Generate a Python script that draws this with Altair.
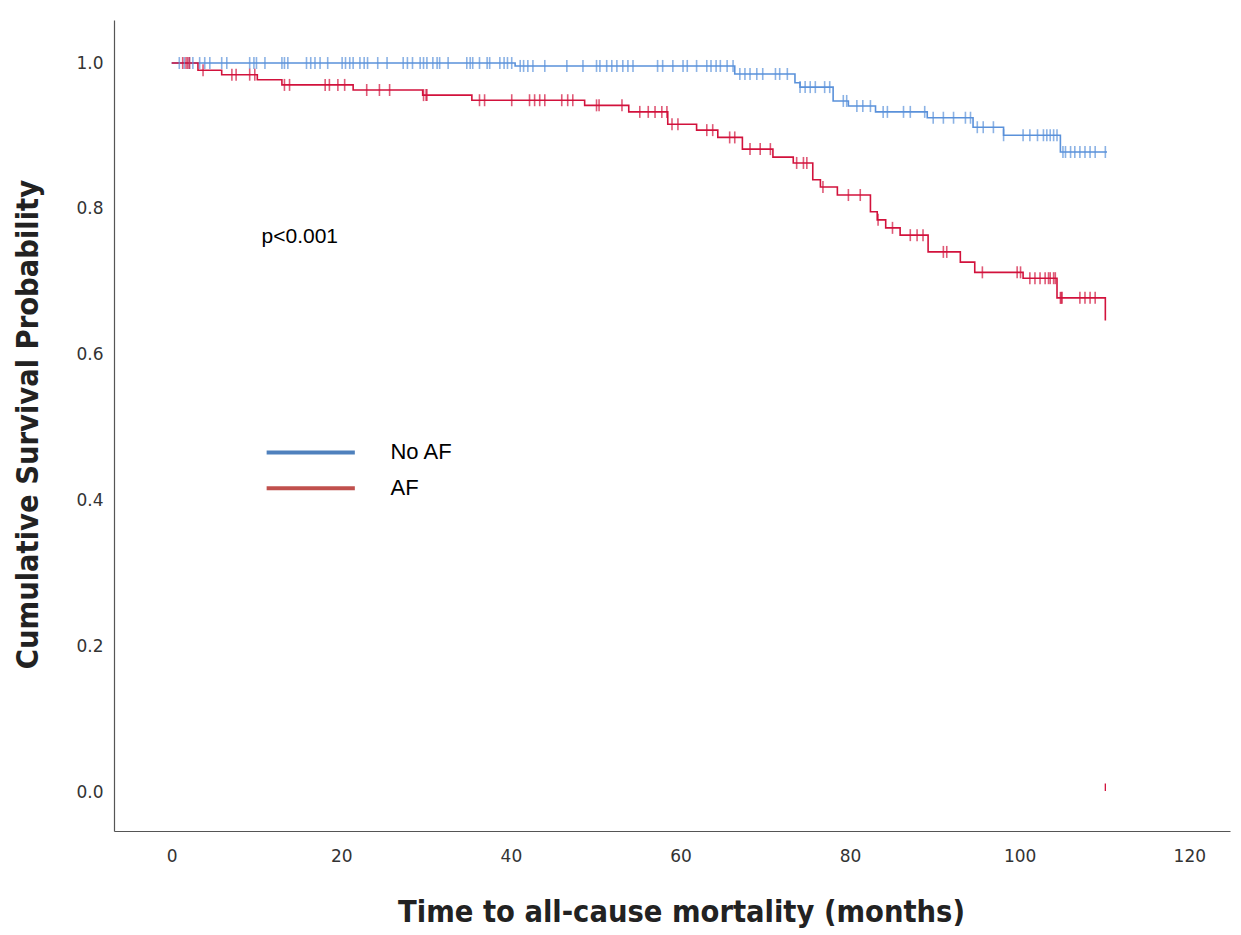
import altair as alt
import pandas as pd
import numpy as np

# Kaplan-Meier step data (months, survival)
red_t = [0, 3.1, 5.9, 10.1, 13.0, 21.4, 29.6, 35.4, 48.7, 53.9, 58.5, 61.9, 64.4, 67.3,
         70.9, 73.3, 75.6, 76.5, 78.5, 82.4, 83.2, 84.2, 85.9, 89.2, 93.0, 94.7, 100.4,
         104.4, 110.1]
red_s = [1.0, 0.990, 0.984, 0.977, 0.970, 0.963, 0.956, 0.949, 0.942, 0.933, 0.916, 0.908,
         0.898, 0.882, 0.871, 0.863, 0.840, 0.830, 0.819, 0.796, 0.785, 0.774, 0.764, 0.741,
         0.727, 0.713, 0.705, 0.678, 0.647]

blue_t = [0, 40.5, 66.4, 73.5, 74.1, 78.0, 79.8, 83.0, 89.1, 94.5, 98.1, 104.8, 110.3]
blue_s = [1.0, 0.996, 0.985, 0.973, 0.967, 0.948, 0.941, 0.933, 0.925, 0.912, 0.901,
          0.878, 0.878]

# censored observation times
red_cens = [1.3, 1.7, 1.9, 2.1, 3.7, 7.1, 7.6, 9.2, 9.8, 13.3, 13.9, 18.1, 18.6, 19.6, 20.4,
            23.0, 24.5, 25.7, 29.7, 30.0, 30.1, 36.3, 36.9, 40.1, 42.2, 42.8, 43.4, 44.0,
            46.0, 46.7, 47.3, 50.1, 50.4, 53.1, 55.2, 56.2, 57.0, 57.8, 58.4, 59.0, 59.7,
            63.1, 63.8, 65.8, 66.4, 68.2, 69.4, 70.6, 73.7, 74.5, 74.9, 76.8, 79.8, 81.2,
            83.3, 85.0, 87.1, 87.9, 88.6, 91.0, 91.4, 95.6, 99.7, 100.1, 101.2, 101.8,
            102.4, 103.0, 103.4, 103.6, 104.0, 104.2, 104.8, 104.9, 105.0, 107.1, 107.7,
            108.3, 108.9]
blue_cens = [0.9, 1.5, 2.1, 2.5, 3.3, 3.9, 4.5, 5.9, 6.5, 9.2, 9.7, 10.0, 11.0, 13.0, 13.3,
             13.7, 15.9, 16.4, 16.9, 17.5, 18.4, 20.1, 20.5, 21.0, 21.4, 22.2, 22.7, 23.1,
             24.3, 25.4, 27.3, 27.8, 28.4, 29.3, 29.7, 30.1, 30.8, 31.3, 31.6, 32.6, 34.8,
             35.2, 35.5, 36.3, 37.2, 37.5, 38.7, 39.2, 39.6, 40.1, 41.1, 41.5, 42.0, 42.6,
             44.0, 46.6, 48.5, 50.1, 50.5, 51.3, 51.9, 52.5, 53.2, 53.8, 54.4, 57.3, 57.9,
             59.1, 60.3, 60.8, 61.9, 63.1, 63.6, 64.2, 64.7, 65.5, 66.2, 67.0, 67.6, 68.2,
             69.0, 69.7, 71.2, 71.7, 72.6, 74.1, 74.7, 75.3, 75.9, 77.0, 77.6, 79.2, 79.6,
             80.8, 81.5, 82.4, 83.9, 84.4, 86.3, 87.1, 88.8, 89.8, 91.0, 92.2, 93.6, 94.2,
             95.0, 95.7, 96.9, 98.1, 100.4, 101.2, 102.1, 102.8, 103.2, 103.6, 104.0, 104.4,
             105.1, 105.4, 106.0, 106.5, 107.1, 107.7, 108.3, 108.9, 110.1]

groups = ["No AF", "AF"]
curve_colors = ["#5a91da", "#d2123c"]
legend_colors = ["#4f81bd", "#c0504d"]


def surv_at(times, ts, ss):
    idx = np.searchsorted(np.array(ts), np.array(times), side="right") - 1
    return [ss[i] for i in idx]


steps = pd.concat([
    pd.DataFrame({"t": blue_t, "s": blue_s, "g": "No AF"}),
    pd.DataFrame({"t": red_t, "s": red_s, "g": "AF"}),
])
cens = pd.concat([
    pd.DataFrame({"t": blue_cens, "s": surv_at(blue_cens, blue_t, blue_s), "g": "No AF"}),
    pd.DataFrame({"t": red_cens, "s": surv_at(red_cens, red_t, red_s), "g": "AF"}),
])

xscale = alt.Scale(domain=[-6.8, 124.8], nice=False, zero=False)
yscale = alt.Scale(domain=[-0.053, 1.059], nice=False, zero=False)
cscale = alt.Scale(domain=groups, range=curve_colors)

xax = alt.Axis(values=[0, 20, 40, 60, 80, 100, 120], grid=False, ticks=False,
               labelPadding=17, title="Time to all-cause mortality (months)",
               titleY=90, titleX=567, titleBaseline="alphabetic")
yax = alt.Axis(values=[0, 0.2, 0.4, 0.6, 0.8, 1.0], format=".1f", grid=False, ticks=False,
               labelPadding=11, title="Cumulative Survival Probability",
               titleX=-71, titleY=404)

x = alt.X("t:Q", scale=xscale, axis=xax)
y = alt.Y("s:Q", scale=yscale, axis=yax)

lines = alt.Chart(steps).mark_line(interpolate="step-after", strokeWidth=1.6).encode(
    x=x, y=y, color=alt.Color("g:N", scale=cscale, legend=None), detail="g:N"
)
ticks = alt.Chart(cens).mark_tick(orient="vertical", size=12, thickness=1.6).encode(
    x=alt.X("t:Q", scale=xscale), y=alt.Y("s:Q", scale=yscale),
    color=alt.Color("g:N", scale=cscale, legend=None)
)

# stray end-of-curve mark near zero
stray = pd.DataFrame({"t": [110.1], "s": [0.002], "s2": [0.012]})
stray_m = alt.Chart(stray).mark_rule(color="#d2123c", strokeWidth=1.3).encode(
    x=alt.X("t:Q", scale=xscale), y=alt.Y("s:Q", scale=yscale), y2="s2:Q"
)

# manual legend
leg = pd.DataFrame({"g": groups, "x0": [11.2, 11.2], "x1": [21.6, 21.6],
                    "s": [0.466, 0.417], "tx": [25.8, 25.8]})
leg_lines = alt.Chart(leg).mark_rule(strokeWidth=4).encode(
    x=alt.X("x0:Q", scale=xscale), x2="x1:Q", y=alt.Y("s:Q", scale=yscale),
    color=alt.Color("g:N", scale=alt.Scale(domain=groups, range=legend_colors), legend=None)
)
leg_text = alt.Chart(leg).mark_text(align="left", baseline="middle", fontSize=22,
                                    font="Liberation Sans", color="#000000").encode(
    x=alt.X("tx:Q", scale=xscale), y=alt.Y("s:Q", scale=yscale), text="g:N"
)

ptxt = pd.DataFrame({"t": [10.6], "s": [0.761], "label": ["p<0.001"]})
p_text = alt.Chart(ptxt).mark_text(align="left", baseline="middle", fontSize=21,
                                   font="Liberation Sans", color="#000000").encode(
    x=alt.X("t:Q", scale=xscale), y=alt.Y("s:Q", scale=yscale), text="label:N"
)

chart = alt.layer(lines, ticks, stray_m, leg_lines, leg_text, p_text).resolve_scale(
    color="independent"
).properties(
    width=1116, height=811,
    autosize=alt.AutoSizeParams(type="none"),
    padding={"left": 114, "top": 20, "right": 11, "bottom": 104},
).configure_view(stroke=None).configure_axis(
    domainColor="#555555", domainWidth=1.2,
    labelFont="DejaVu Sans", labelFontSize=17, labelColor="#333333",
    titleFont="DejaVu Sans Condensed, Roboto, sans-serif", titleFontSize=30.5,
    titleFontWeight="bold", titleColor="#222222",
)

chart.save("out.html", embed_options={"renderer": "svg", "actions": False})
